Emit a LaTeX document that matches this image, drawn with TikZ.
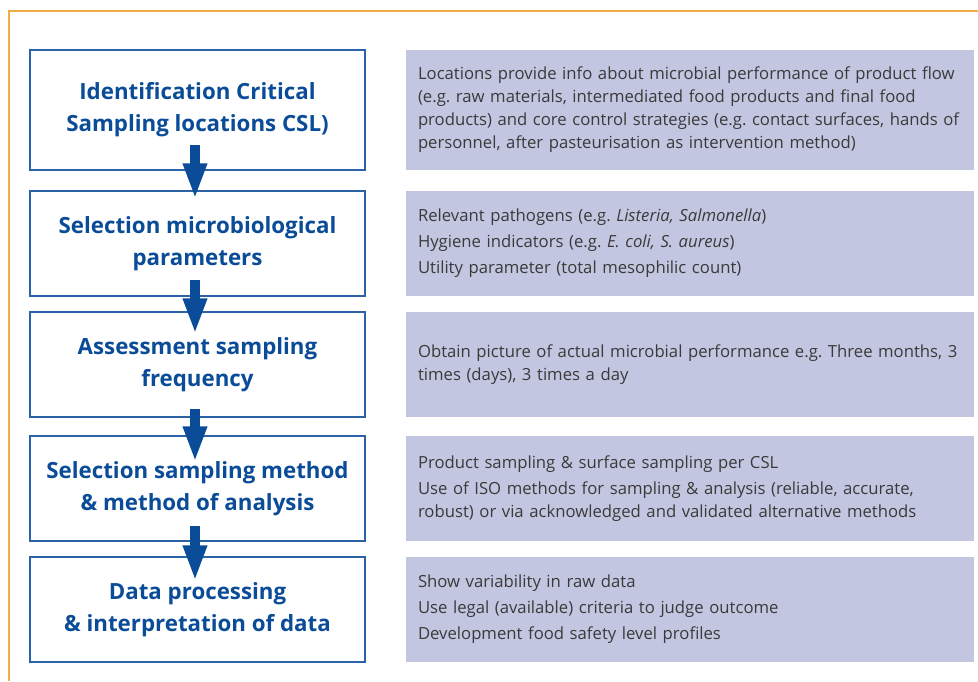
\documentclass[tikz,border=0pt]{standalone}
\usepackage{fontspec}
\setmainfont{Open Sans}
\usetikzlibrary{arrows.meta,calc}
\definecolor{dblue}{HTML}{0A4C97}
\definecolor{bline}{HTML}{2C63A8}
\definecolor{lav}{HTML}{C3C6E1}
\definecolor{txt}{HTML}{3A3A3A}
\definecolor{orng}{HTML}{F0AE45}
\frenchspacing
\begin{document}
\begin{tikzpicture}[x=1pt,y=-1pt,
 stepbox/.style={draw=bline,line width=1.5pt,fill=white,minimum width=335pt,minimum height=105pt,inner sep=0pt,align=center,font=\fontsize{22.3}{32}\selectfont\bfseries,text=dblue},
 infobox/.style={fill=lav,minimum width=568pt,minimum height=105pt,inner xsep=12pt,inner ysep=0pt,text width=544pt,align=left,font=\fontsize{16.7}{23}\selectfont\frenchspacing,text=txt},
 flow/.style={draw=dblue,line width=9.5pt,-{Triangle[width=22pt,length=36pt]}}]
\path[use as bounding box] (0,0) rectangle (978,681);
\draw[orng,line width=2pt] (9,681) -- (9,11) -- (978,11);

\node[stepbox,minimum height=120pt] (b1) at (197.5,110) {Identification Critical\\Sampling locations CSL)};
\node[stepbox] (b2) at (197.5,243.5) {Selection microbiological\\parameters};
\node[stepbox] (b3) at (197.5,364.5) {Assessment sampling\\frequency};
\node[stepbox] (b4) at (197.5,488.5) {Selection sampling method\\\& method of analysis};
\node[stepbox] (b5) at (197.5,609.5) {Data processing\\\& interpretation of data};

\node[infobox,minimum height=120pt] (i1) at (690,110) {Locations provide info about microbial performance of product flow\\(e.g. raw materials, intermediated food products and final food\\products) and core control strategies (e.g. contact surfaces, hands of\\personnel, after pasteurisation as intervention method)};
\node[infobox] (i2) at (690,243.5) {Relevant pathogens (e.g. \textit{Listeria, Salmonella})\\[3pt]Hygiene indicators (e.g. \textit{E. coli, S. aureus})\\[3pt]Utility parameter (total mesophilic count)};
\node[infobox] (i3) at (690,364.5) {Obtain picture of actual microbial performance e.g. Three months, 3\\times (days), 3 times a day};
\node[infobox] (i4) at (690,488.5) {Product sampling \& surface sampling per CSL\\[3pt]Use of ISO methods for sampling \& analysis (reliable, accurate,\\robust) or via acknowledged and validated alternative methods};
\node[infobox] (i5) at (690,609.5) {Show variability in raw data\\[3pt]Use legal (available) criteria to judge outcome\\[3pt]Development food safety level profiles};

\draw[flow] ($(b1.south)+(-2.5,-26)$) -- ($(b2.north)+(-2.5,9)$);
\draw[flow] ($(b2.south)+(-2.5,-17)$) -- ($(b3.north)+(-2.5,23)$);
\draw[flow] ($(b3.south)+(-2.5,-9)$) -- ($(b4.north)+(-2.5,27)$);
\draw[flow] ($(b4.south)+(-2.5,-16)$) -- ($(b5.north)+(-2.5,25)$);
\end{tikzpicture}
\end{document}
